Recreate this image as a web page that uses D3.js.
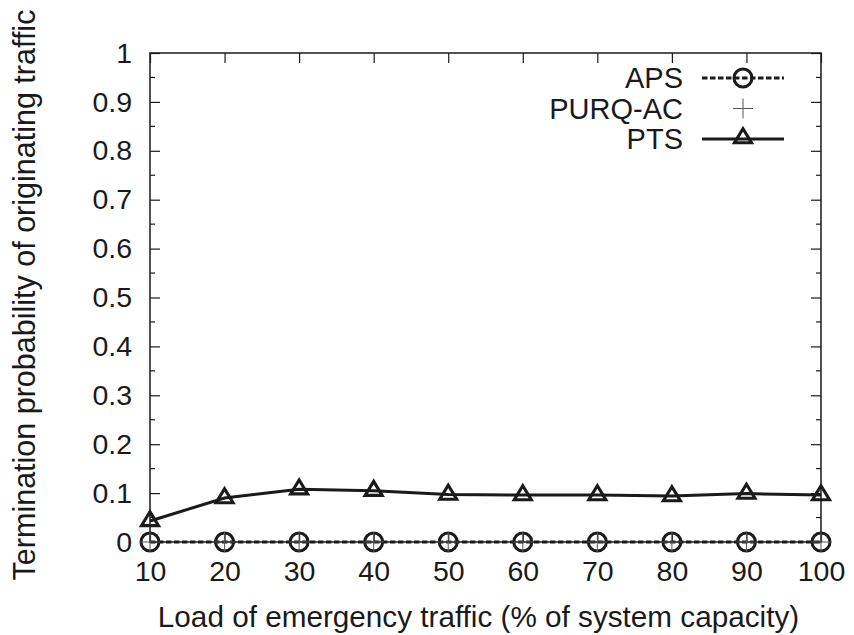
<!DOCTYPE html>
<html>
<head>
<meta charset="utf-8">
<script src="https://cdn.jsdelivr.net/npm/d3@7"></script>
<style>
  body { margin: 0; background: #fff; }
  svg { display: block; font-family: "Liberation Sans", Arial, sans-serif; }
</style>
</head>
<body>
<svg id="chart" width="854" height="635"></svg>
<script>
// load of emergency traffic (% of system capacity)
const loads = [10, 20, 30, 40, 50, 60, 70, 80, 90, 100];
const apsValues = [0, 0, 0, 0, 0, 0, 0, 0, 0, 0];
const purqValues = [0, 0, 0, 0, 0, 0, 0, 0, 0, 0];
const ptsValues = [0.043, 0.090, 0.108, 0.105, 0.097, 0.096, 0.096, 0.094, 0.099, 0.096];
const yTicks = [0, 0.1, 0.2, 0.3, 0.4, 0.5, 0.6, 0.7, 0.8, 0.9, 1];
const seriesNames = ["APS", "PURQ-AC", "PTS"];

const svg = d3.select("#chart");
const plotLeft = 150, plotRight = 821, plotTop = 53, plotBottom = 542;
const ink = "#1a1a1a";

const x = d3.scaleLinear().domain([10, 100]).range([plotLeft, plotRight]);
const y = d3.scaleLinear().domain([0, 1]).range([plotBottom, plotTop]);

// frame
svg.append("rect")
  .attr("x", plotLeft).attr("y", plotTop)
  .attr("width", plotRight - plotLeft).attr("height", plotBottom - plotTop)
  .attr("fill", "none").attr("stroke", ink).attr("stroke-width", 1.5);

// y axis: labels on the left, ticks inward on both sides
const yMinor = d3.range(0.05, 1, 0.1);
const yAxisL = d3.axisLeft(y).tickValues(yTicks).tickSize(-10).tickPadding(18)
  .tickFormat(d => d3.format("~g")(d));
const gy = svg.append("g").attr("transform", `translate(${plotLeft},0)`).call(yAxisL);
const gyR = svg.append("g").attr("transform", `translate(${plotRight},0)`)
  .call(d3.axisRight(y).tickValues(yTicks).tickSize(-10).tickFormat(""));
[gy, gyR].forEach(g => {
  g.selectAll(".minor").data(yMinor).enter().append("line")
    .attr("class", "minor")
    .attr("x1", 0).attr("x2", g === gy ? 5 : -5)
    .attr("y1", d => y(d)).attr("y2", d => y(d))
    .attr("stroke", ink).attr("stroke-width", 1.2);
});

// x axis
svg.append("g").attr("transform", `translate(0,${plotBottom})`)
  .call(d3.axisBottom(x).tickValues(loads).tickSize(-10).tickPadding(19));
svg.append("g").attr("transform", `translate(0,${plotTop})`)
  .call(d3.axisTop(x).tickValues(loads).tickSize(-10).tickFormat(""));

svg.selectAll(".domain").remove();
svg.selectAll(".tick line").attr("stroke", ink).attr("stroke-width", 1.2);
svg.selectAll(".tick text").attr("fill", ink).style("font-size", "28.5px")
  .style("font-family", "'Liberation Sans', Arial, sans-serif");

// axis titles
svg.append("text")
  .attr("x", (plotLeft + plotRight) / 2 - 7).attr("y", 627)
  .attr("text-anchor", "middle").attr("fill", ink)
  .style("font-size", "29.7px")
  .text("Load of emergency traffic (% of system capacity)");
svg.append("text")
  .attr("transform", `translate(35,295) rotate(-90)`)
  .attr("text-anchor", "middle").attr("fill", ink)
  .style("font-size", "30.5px")
  .text("Termination probability of originating traffic");

// marker helpers
function drawCircle(g, cx, cy) {
  g.append("circle").attr("cx", cx).attr("cy", cy).attr("r", 9)
    .attr("fill", "none").attr("stroke", ink).attr("stroke-width", 3);
}
function drawPlus(g, cx, cy) {
  g.append("path")
    .attr("d", `M${cx - 10},${cy}H${cx + 10}M${cx},${cy - 10}V${cy + 10}`)
    .attr("stroke", "#555").attr("stroke-width", 1);
}
function drawTriangle(g, cx, cy) {
  g.append("path")
    .attr("d", `M${cx - 8.5},${cy + 4.7}L${cx + 8.5},${cy + 4.7}L${cx},${cy - 9.3}Z`)
    .attr("fill", "none").attr("stroke", ink).attr("stroke-width", 3.1)
    .attr("stroke-linejoin", "miter");
}

const line = d3.line().x((d, i) => x(loads[i])).y(d => y(d));
const plot = svg.append("g");

// APS: dashed with circles
plot.append("path").datum(apsValues).attr("d", line)
  .attr("fill", "none").attr("stroke", ink).attr("stroke-width", 3)
  .attr("stroke-dasharray", "5.5,2.5");
apsValues.forEach((v, i) => drawCircle(plot, x(loads[i]), y(v)));

// PURQ-AC: points only
purqValues.forEach((v, i) => drawPlus(plot, x(loads[i]), y(v)));

// PTS: solid with triangles
plot.append("path").datum(ptsValues).attr("d", line)
  .attr("fill", "none").attr("stroke", ink).attr("stroke-width", 3);
ptsValues.forEach((v, i) => drawTriangle(plot, x(loads[i]), y(v)));

// legend
const legend = svg.append("g");
const legY = [78, 108.5, 139];
const lx0 = 702, lx1 = 784, lxm = 743;
seriesNames.forEach((name, i) => {
  legend.append("text")
    .attr("x", 683).attr("y", legY[i] + 10)
    .attr("text-anchor", "end").attr("fill", ink)
    .style("font-size", "29px").text(name);
});
legend.append("line").attr("x1", lx0).attr("x2", lx1).attr("y1", legY[0]).attr("y2", legY[0])
  .attr("stroke", ink).attr("stroke-width", 3).attr("stroke-dasharray", "5.5,2.5");
drawCircle(legend, lxm, legY[0]);
drawPlus(legend, lxm, legY[1]);
legend.append("line").attr("x1", lx0).attr("x2", lx1).attr("y1", legY[2]).attr("y2", legY[2])
  .attr("stroke", ink).attr("stroke-width", 3);
drawTriangle(legend, lxm, legY[2] - 1);
</script>
</body>
</html>
